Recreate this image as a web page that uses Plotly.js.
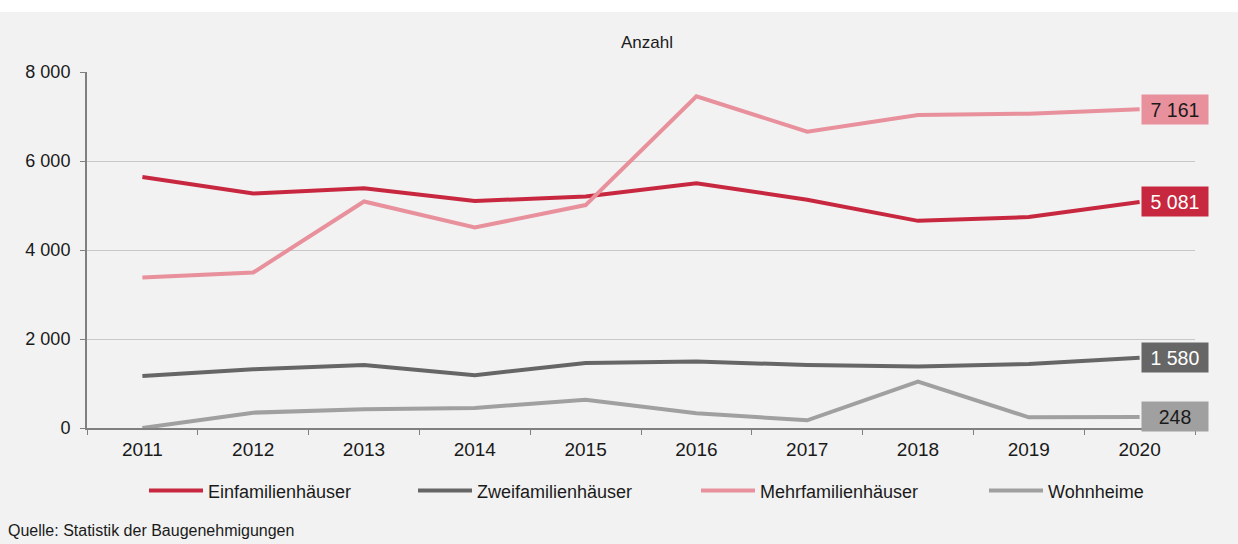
<!DOCTYPE html>
<html>
<head>
<meta charset="utf-8">
<script src="https://cdn.plot.ly/plotly-3.0.1.min.js"></script>
<style>
  html, body { margin: 0; padding: 0; background: #ffffff; }
  #chart { width: 1238px; height: 532px; margin-top: 12px; }
</style>
</head>
<body>
<div id="chart"></div>
<script>
const years = ["2011","2012","2013","2014","2015","2016","2017","2018","2019","2020"];
const einfamilien  = [5640, 5270, 5385, 5100, 5205, 5497, 5130, 4655, 4740, 5081];
const zweifamilien = [1170, 1320, 1417, 1185, 1462, 1492, 1417, 1380, 1440, 1580];
const mehrfamilien = [3381, 3494, 5091, 4506, 5010, 7453, 6659, 7035, 7064, 7161];
const wohnheime    = [0, 345, 420, 450, 637, 330, 173, 1042, 240, 248];
const seriesNames  = ["Einfamilienhäuser", "Zweifamilienhäuser", "Mehrfamilienhäuser", "Wohnheime"];
const yTicks = [0, 2000, 4000, 6000, 8000];

const colors = ["#C8283F", "#666666", "#E8909C", "#A0A0A0"];
const labelText = ["#ffffff", "#ffffff", "#1a1a1a", "#1a1a1a"];
const allSeries = [einfamilien, zweifamilien, mehrfamilien, wohnheime];
const FONT = "Liberation Sans, Arial, sans-serif";
const legendIds = ["legend", "legend2", "legend3", "legend4"];
const legendX = [144, 413, 696, 984];

const fmt = v => String(v).replace(/\B(?=(\d{3})+(?!\d))/g, " ");

const traces = allSeries.map((vals, i) => ({
  type: "scatter",
  mode: "lines",
  x: years,
  y: vals,
  name: seriesNames[i],
  legend: legendIds[i],
  line: { color: colors[i], width: 4 },
  hoverinfo: "x+y+name"
}));

const last = years.length - 1;
const annotations = allSeries.map((vals, i) => ({
  x: last, y: vals[last], xref: "x", yref: "y",
  text: fmt(vals[last]),
  showarrow: false, xanchor: "left", yanchor: "middle", xshift: 1,
  bgcolor: colors[i], width: 60, height: 23, borderpad: 3,
  font: { family: FONT, size: 19.5, color: labelText[i] }
}));
annotations.push({
  text: "Anzahl", xref: "paper", yref: "paper", x: 0.505, y: 1, yanchor: "bottom", yshift: 18,
  showarrow: false, font: { family: FONT, size: 17, color: "#1a1a1a" }
});
annotations.push({
  text: "Quelle: Statistik der Baugenehmigungen", xref: "paper", yref: "paper",
  x: -0.073, y: -0.289, xanchor: "left", yanchor: "middle",
  showarrow: false, font: { family: FONT, size: 16, color: "#1a1a1a" }
});

const layout = {
  width: 1238, height: 532,
  paper_bgcolor: "#F2F2F2", plot_bgcolor: "#F2F2F2",
  margin: { l: 87, r: 43, t: 60, b: 116 },
  separators: ", ",
  font: { family: FONT, size: 18, color: "#1a1a1a" },
  showlegend: true,
  xaxis: {
    type: "category", tickson: "boundaries", ticks: "outside", ticklen: 5, tickwidth: 1,
    tickcolor: "#808080", showline: true, linecolor: "#808080", linewidth: 2,
    showgrid: false, zeroline: false, range: [-0.5, 9.5],
    tickfont: { size: 19 }, ticklabelstandoff: 3
  },
  yaxis: {
    range: [0, 8000], tickvals: yTicks, tickformat: ",d",
    ticks: "outside", ticklen: 5, tickwidth: 1, tickcolor: "#808080",
    showline: true, linecolor: "#808080", linewidth: 2,
    showgrid: true, gridcolor: "#C8C8C8", gridwidth: 1, zeroline: false,
    tickfont: { size: 18 }, ticklabelstandoff: 6
  },
  annotations: annotations
};
legendIds.forEach((id, i) => {
  layout[id] = {
    orientation: "h", xref: "container", yref: "container",
    x: legendX[i] / 1238, y: 0.1, xanchor: "left", yanchor: "middle",
    bgcolor: "rgba(0,0,0,0)", itemwidth: 54,
    font: { family: FONT, size: 18, color: "#1a1a1a" }
  };
});

Plotly.newPlot("chart", traces, layout, { displayModeBar: false, staticPlot: true });
</script>
</body>
</html>
